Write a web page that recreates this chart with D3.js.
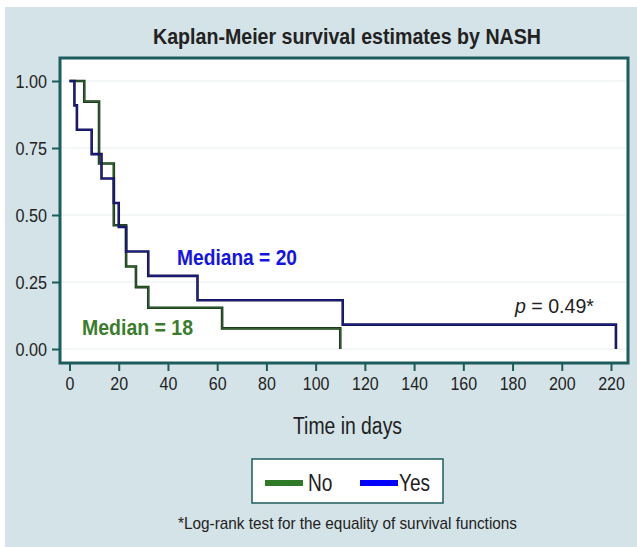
<!DOCTYPE html>
<html>
<head>
<meta charset="utf-8">
<script src="https://cdn.jsdelivr.net/npm/d3@7/dist/d3.min.js"></script>
<style>
  body { margin: 0; background: #fff; }
  svg { display: block; }
  text { font-family: "Liberation Sans", Arial, sans-serif; fill: #222; }
</style>
</head>
<body>
<svg width="637" height="547"></svg>
<script>
// survival data
const yesTimes = [0, 2, 3, 9, 13, 18, 20, 23, 32, 52, 111, 222];
const yesSurv  = [1, 0.909, 0.818, 0.727, 0.636, 0.545, 0.455, 0.364, 0.273, 0.182, 0.091, 0];
const noTimes  = [0, 6, 12, 18, 23, 27, 32, 62, 110];
const noSurv   = [1, 0.923, 0.692, 0.462, 0.308, 0.231, 0.154, 0.077, 0];
const xTicks = [0, 20, 40, 60, 80, 100, 120, 140, 160, 180, 200, 220];
const yTicks = [0, 0.25, 0.5, 0.75, 1];
const groups = ['No', 'Yes'];

const svg = d3.select('svg');
const teal = '#1d5c5c';

// squeeze text to a narrow look
const narrow = (sel, len) => sel.attr('textLength', len).attr('lengthAdjust', 'spacingAndGlyphs');

svg.append('rect')
    .attr('x', 5).attr('y', 7)
    .attr('width', 632).attr('height', 540)
    .attr('fill', '#d4e3e7');

svg.append('text')
    .attr('x', 153).attr('y', 44)
    .attr('font-size', 22).attr('font-weight', 'bold')
    .text('Kaplan-Meier survival estimates by NASH')
    .call(narrow, 388);

const frame = { left: 60, top: 58, right: 628, bottom: 363 };

const xScale = d3.scaleLinear().domain([0, 220]).range([69.5, 611]);
const yScale = d3.scaleLinear().domain([0, 1]).range([349, 81]);

svg.append('rect')
    .attr('x', frame.left).attr('y', frame.top)
    .attr('width', frame.right - frame.left)
    .attr('height', frame.bottom - frame.top)
    .attr('fill', '#fff');

// faint gridlines
svg.append('g').selectAll('line').data(yTicks)
  .enter().append('line')
    .attr('x1', frame.left).attr('x2', frame.right)
    .attr('y1', d => yScale(d)).attr('y2', d => yScale(d))
    .attr('stroke', '#e8efef').attr('stroke-width', 1.2);

const yAxis = d3.axisLeft(yScale)
    .tickValues(yTicks)
    .tickFormat(d3.format('.2f'))
    .tickSize(8)
    .tickPadding(5);
const yAxisG = svg.append('g')
    .attr('transform', `translate(${frame.left},0)`)
    .call(yAxis);
yAxisG.select('.domain').remove();
yAxisG.selectAll('line').attr('stroke', teal).attr('stroke-width', 2);
yAxisG.selectAll('text').attr('font-size', 19).attr('fill', '#222')
    .attr('font-family', '"Liberation Sans", Arial, sans-serif')
    .call(narrow, 31.5);

const xAxis = d3.axisBottom(xScale)
    .tickValues(xTicks)
    .tickFormat(d3.format('d'))
    .tickSize(8)
    .tickPadding(6);
const xAxisG = svg.append('g')
    .attr('transform', `translate(0,${frame.bottom})`)
    .call(xAxis);
xAxisG.select('.domain').remove();
xAxisG.selectAll('line').attr('stroke', teal).attr('stroke-width', 2);
xAxisG.selectAll('text').attr('font-size', 19).attr('fill', '#222')
    .attr('font-family', '"Liberation Sans", Arial, sans-serif')
    .each(function(d) {
        d3.select(this).call(narrow, String(d).length * 8.9);
    });

const stepLine = d3.line()
    .x(d => xScale(d[0]))
    .y(d => yScale(d[1]))
    .curve(d3.curveStepAfter);

const curves = [
    { pts: d3.zip(noTimes, noSurv), under: '#1c331c', over: '#3f9a3a' },
    { pts: d3.zip(yesTimes, yesSurv), under: '#15154a', over: '#2626d8' }
];
curves.forEach(c => {
    svg.append('path').attr('d', stepLine(c.pts))
        .attr('fill', 'none').attr('stroke', c.under).attr('stroke-width', 2.6);
    svg.append('path').attr('d', stepLine(c.pts))
        .attr('fill', 'none').attr('stroke', c.over).attr('stroke-width', 1)
        .attr('stroke-opacity', 0.55);
});

// frame on top
svg.append('rect')
    .attr('x', frame.left).attr('y', frame.top)
    .attr('width', frame.right - frame.left)
    .attr('height', frame.bottom - frame.top)
    .attr('fill', 'none').attr('stroke', teal).attr('stroke-width', 3);

// annotations
svg.append('text')
    .attr('x', 177).attr('y', 265)
    .attr('font-size', 22.5).attr('font-weight', 'bold')
    .style('fill', '#1414e8')
    .text('Mediana = 20')
    .call(narrow, 120);
svg.append('text')
    .attr('x', 82).attr('y', 335)
    .attr('font-size', 22.5).attr('font-weight', 'bold')
    .style('fill', '#3a7d2c')
    .text('Median = 18')
    .call(narrow, 111);
const pText = svg.append('text')
    .attr('x', 515).attr('y', 313)
    .attr('font-size', 21);
pText.append('tspan').attr('font-style', 'italic').text('p');
pText.append('tspan').text(' = 0.49*');
pText.call(narrow, 79);

svg.append('text')
    .attr('x', 293).attr('y', 434)
    .attr('font-size', 23)
    .text('Time in days')
    .call(narrow, 109);

// legend
svg.append('rect')
    .attr('x', 252).attr('y', 459)
    .attr('width', 191).attr('height', 44)
    .attr('fill', '#fff').attr('stroke', teal).attr('stroke-width', 1.5);
const legendColors = ['#2f7a27', '#0000ff'];
const legendX = [265, 360];
const legendText = [24.5, 31];
const legend = svg.append('g').selectAll('g').data(groups)
  .enter().append('g')
    .attr('transform', (d, i) => `translate(${legendX[i]},483)`);
legend.append('line')
    .attr('x1', 0).attr('x2', 38)
    .attr('stroke', (d, i) => legendColors[i]).attr('stroke-width', 6);
legend.append('text')
    .attr('x', (d, i) => i === 0 ? 43 : 39).attr('y', 7.5)
    .attr('font-size', 23)
    .text(d => d)
    .each(function(d, i) { d3.select(this).call(narrow, legendText[i]); });

svg.append('text')
    .attr('x', 178).attr('y', 529)
    .attr('font-size', 17)
    .text('*Log-rank test for the equality of survival functions')
    .call(narrow, 339);
</script>
</body>
</html>
